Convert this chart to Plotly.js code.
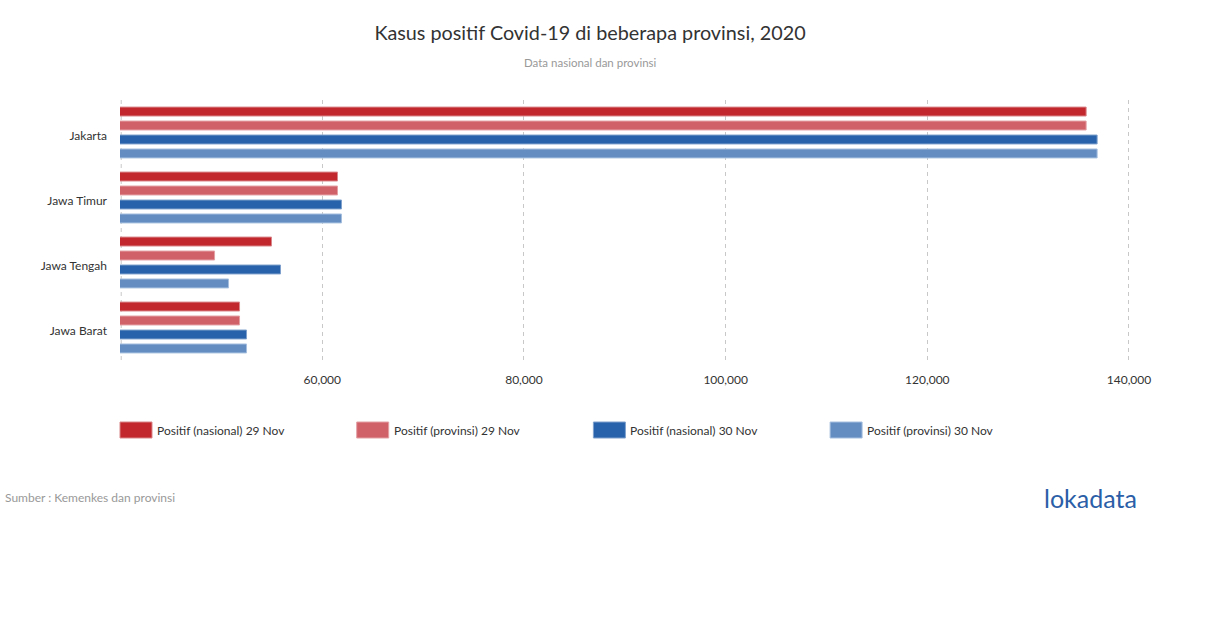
<!DOCTYPE html>
<html>
<head>
<meta charset="utf-8">
<script src="https://cdn.plot.ly/plotly-3.0.1.min.js"></script>
<style>html,body{margin:0;padding:0;background:#fff;}#chart{width:1210px;height:628px;}</style>
</head>
<body>
<div id="chart"></div>
<script>
// Data
const provinces = ["Jakarta", "Jawa Timur", "Jawa Tengah", "Jawa Barat"];
const seriesNames = ["Positif (nasional) 29 Nov", "Positif (provinsi) 29 Nov", "Positif (nasional) 30 Nov", "Positif (provinsi) 30 Nov"];
const nasional29 = [135750, 61510, 54965, 51795];
const provinsi29 = [135750, 61510, 49316, 51795];
const nasional30 = [136840, 61900, 55857, 52488];
const provinsi30 = [136840, 61900, 50704, 52488];
const tickVals = [40000, 60000, 80000, 100000, 120000, 140000];
const tickText = ["", "60,000", "80,000", "100,000", "120,000", "140,000"];

const seriesValues = [nasional29, provinsi29, nasional30, provinsi30];
const colors = ["#c1272d", "#d06168", "#2762aa", "#648dc1"];
const edgeColors = ["#d9868a", "#e3a0a4", "#7fa0cc", "#a6bfdf"];

const traces = seriesValues.map((vals, i) => ({
  type: "bar",
  orientation: "h",
  name: seriesNames[i],
  y: provinces,
  x: vals,
  marker: {color: colors[i], line: {color: edgeColors[i], width: 1}},
  showlegend: false,
  hoverinfo: "x+name"
}));

// custom legend (positions in pixels converted to paper coords)
const plotL = 120, plotR = 1131, plotT = 100, plotB = 360;
const pw = plotR - plotL, ph = plotB - plotT;
const px = v => (v - plotL) / pw;
const py = v => (plotB - v) / ph;
const legendStart = 120, legendStep = 236.7;
const shapes = [];
const annotations = [];
// dashed line at the start of the value axis
shapes.push({type: "line", xref: "paper", yref: "paper", x0: 0.0012, x1: 0.0012, y0: 0, y1: 1,
  layer: "below", line: {color: "#c8c8c8", width: 1, dash: "4px,4px"}});
seriesNames.forEach((n, i) => {
  const x0 = legendStart + i * legendStep;
  shapes.push({type: "rect", xref: "paper", yref: "paper",
    x0: px(x0), x1: px(x0 + 32), y0: py(438), y1: py(422),
    fillcolor: colors[i], line: {color: edgeColors[i], width: 1}});
  annotations.push({xref: "paper", yref: "paper", x: px(x0 + 35), y: py(430),
    xanchor: "left", yanchor: "middle", showarrow: false, text: n,
    font: {family: "Lato", size: 12, color: "#333"}});
});
annotations.push({xref: "paper", yref: "paper", x: px(590), y: py(62), xanchor: "center", yanchor: "middle",
  showarrow: false, text: "Data nasional dan provinsi", font: {family: "Lato", size: 11.5, color: "#999"}});
annotations.push({xref: "paper", yref: "paper", x: px(3), y: py(497), xanchor: "left", yanchor: "middle",
  showarrow: false, text: "Sumber : Kemenkes dan provinsi", font: {family: "Lato", size: 12, color: "#999"}});
annotations.push({xref: "paper", yref: "paper", x: px(1090), y: py(498), xanchor: "center", yanchor: "middle",
  showarrow: false, text: "lokadata", font: {family: "Lato", size: 25, color: "#2b5ea7"}});

const layout = {
  width: 1210, height: 628,
  margin: {l: plotL, r: 1210 - plotR, t: plotT, b: 628 - plotB, pad: 0},
  paper_bgcolor: "#fff", plot_bgcolor: "#fff",
  font: {family: "Lato", size: 12, color: "#333"},
  title: {text: "Kasus positif Covid-19 di beberapa provinsi, 2020", x: 590 / 1210, xanchor: "center",
    xref: "container", y: 1 - 33 / 628, yanchor: "middle", yref: "container",
    font: {family: "Lato", size: 19.8, color: "#333"}},
  barmode: "group", bargap: 0.14, bargroupgap: 0.36,
  xaxis: {range: [39940, 140200], tickvals: tickVals, ticktext: tickText, showgrid: true,
    gridcolor: "#c8c8c8", griddash: "4px,4px", gridwidth: 1, zeroline: false, showline: false,
    ticks: "", tickfont: {family: "Lato", size: 12, color: "#333"}, ticklabelstandoff: 11},
  yaxis: {autorange: "reversed", showgrid: false, zeroline: false, showline: false, ticks: "",
    ticklabelstandoff: 12, ticklabelshift: -3, tickfont: {family: "Lato", size: 12, color: "#333"}},
  shapes: shapes,
  annotations: annotations,
  showlegend: false
};

Plotly.newPlot("chart", traces, layout, {displayModeBar: false, staticPlot: true});
</script>
</body>
</html>
